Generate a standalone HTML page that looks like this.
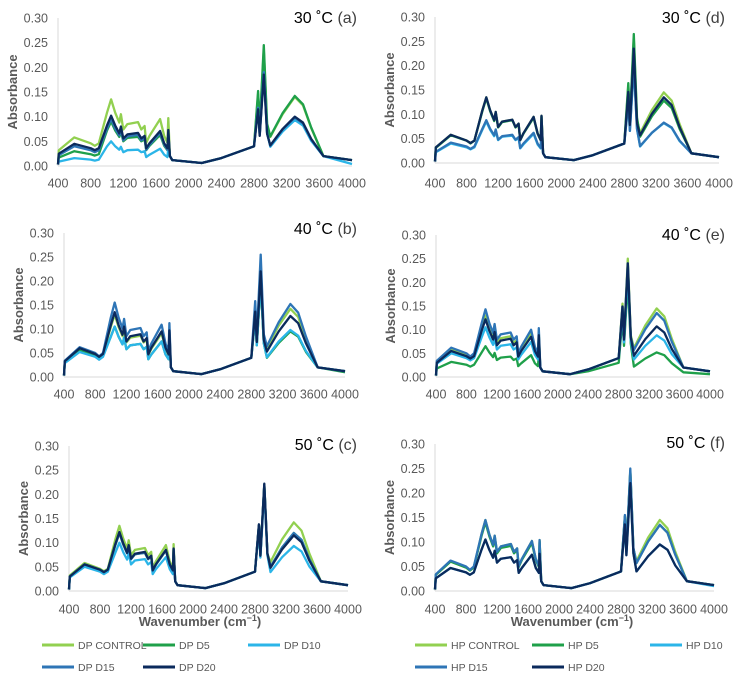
<!DOCTYPE html>
<html><head><meta charset="utf-8">
<style>
html,body{margin:0;padding:0;background:#fff;}
svg{display:block;font-family:"Liberation Sans",sans-serif;}
</style></head>
<body>
<svg id="fig" width="737" height="677" viewBox="0 0 737 677"></svg>
<script>
// shared wavenumber grid (cm-1)
const wavenumbers = [400,410,600,800,850,900,1000,1050,1100,1150,1170,1200,1250,1380,1420,1460,1480,1520,1650,1700,1740,1750,1770,1800,2160,2400,2800,2850,2870,2920,2960,3000,3150,3300,3400,3500,3650,4000];
const xTicks = [400,800,1200,1600,2000,2400,2800,3200,3600,4000];
const yTicks = [0,0.05,0.10,0.15,0.20,0.25,0.30];
const seriesNamesDP = ["DP CONTROL","DP D5","DP D10","DP D15","DP D20"];
const seriesNamesHP = ["HP CONTROL","HP D5","HP D10","HP D15","HP D20"];

// panel (a) 30C DP
const aControl=[.003,.032,.058,.046,.041,.046,.108,.135,.108,.088,.105,.074,.085,.089,.074,.081,.047,.061,.095,.061,.047,.097,.02,.012,.006,.016,.04,.146,.078,.235,.082,.059,.105,.140,.123,.077,.02,.012];
const aD5=[.003,.017,.030,.024,.021,.024,.072,.090,.072,.059,.070,.050,.057,.059,.050,.054,.032,.041,.063,.041,.032,.065,.02,.012,.006,.016,.04,.152,.081,.245,.086,.060,.107,.142,.125,.078,.02,.012];
const aD10=[.003,.009,.016,.013,.011,.013,.040,.050,.040,.033,.039,.028,.032,.033,.028,.030,.018,.023,.035,.023,.018,.036,.02,.012,.006,.016,.04,.118,.063,.190,.067,.039,.070,.093,.082,.051,.02,.004];
const aD15=[.003,.022,.040,.032,.028,.032,.076,.095,.076,.062,.074,.052,.060,.063,.052,.057,.033,.043,.067,.043,.033,.068,.02,.012,.006,.016,.04,.118,.063,.190,.067,.041,.074,.098,.086,.054,.02,.012];
const aD20=[.003,.025,.045,.036,.032,.036,.082,.102,.082,.066,.080,.056,.064,.067,.056,.061,.036,.046,.071,.046,.036,.073,.02,.012,.006,.016,.04,.115,.061,.185,.065,.042,.075,.100,.088,.055,.02,.012];
// panel (b) 40C DP
const bControl=[.003,.033,.060,.048,.042,.048,.104,.130,.104,.085,.101,.072,.082,.086,.072,.078,.046,.059,.091,.059,.046,.094,.02,.012,.006,.016,.04,.124,.066,.200,.070,.060,.107,.142,.125,.078,.02,.012];
const bD5=[.003,.030,.055,.044,.039,.044,.084,.105,.084,.068,.082,.058,.066,.069,.058,.063,.037,.047,.074,.047,.037,.076,.02,.012,.006,.016,.04,.124,.066,.200,.070,.040,.071,.095,.084,.052,.02,.01];
const bD10=[.003,.029,.052,.042,.036,.042,.084,.105,.084,.068,.082,.058,.066,.069,.058,.063,.037,.047,.074,.047,.037,.076,.02,.012,.006,.016,.04,.124,.066,.200,.070,.041,.074,.098,.086,.054,.02,.012];
const bD15=[.003,.034,.062,.050,.043,.050,.124,.155,.124,.101,.121,.085,.098,.102,.085,.093,.054,.070,.109,.070,.054,.112,.02,.012,.006,.016,.04,.158,.084,.255,.089,.064,.114,.152,.134,.084,.02,.012];
const bD20=[.003,.033,.060,.048,.042,.048,.108,.135,.108,.088,.105,.074,.085,.089,.074,.081,.047,.061,.095,.061,.047,.097,.02,.012,.006,.016,.04,.136,.073,.220,.077,.053,.095,.127,.112,.070,.02,.012];
// panel (c) 50C DP
const cControl=[.003,.032,.058,.046,.041,.046,.108,.135,.108,.088,.105,.074,.085,.089,.074,.081,.047,.061,.095,.061,.047,.097,.02,.012,.006,.016,.04,.136,.073,.220,.077,.060,.107,.142,.125,.078,.02,.012];
const cD5=[.003,.030,.055,.044,.039,.044,.096,.120,.096,.078,.094,.066,.076,.079,.066,.072,.042,.054,.084,.054,.042,.086,.02,.012,.006,.016,.04,.136,.073,.220,.077,.050,.090,.120,.106,.066,.02,.012];
const cD10=[.003,.028,.050,.040,.035,.040,.080,.100,.080,.065,.078,.055,.063,.066,.055,.060,.035,.045,.070,.045,.035,.072,.02,.012,.006,.016,.04,.130,.069,.210,.074,.039,.070,.093,.082,.051,.02,.012];
const cD15=[.003,.030,.055,.044,.039,.044,.096,.120,.096,.078,.094,.066,.076,.079,.066,.072,.042,.054,.084,.054,.042,.086,.02,.012,.006,.016,.04,.136,.073,.220,.077,.050,.090,.120,.106,.066,.02,.012];
const cD20=[.003,.030,.055,.044,.039,.044,.098,.122,.098,.079,.095,.067,.077,.081,.067,.073,.043,.055,.085,.055,.043,.088,.02,.012,.006,.016,.04,.138,.073,.222,.078,.048,.086,.115,.101,.063,.02,.012];
// panel (d) 30C HP
const dControl=[.003,.032,.058,.046,.041,.046,.108,.135,.108,.088,.105,.074,.085,.089,.074,.081,.047,.061,.095,.061,.047,.097,.02,.012,.006,.016,.04,.158,.084,.255,.089,.061,.109,.145,.128,.080,.02,.012];
const dD5=[.003,.031,.057,.046,.040,.046,.106,.133,.106,.086,.104,.073,.084,.088,.073,.080,.047,.060,.093,.060,.047,.096,.02,.012,.006,.016,.04,.164,.087,.265,.093,.054,.096,.128,.113,.070,.02,.012];
const dD10=[.003,.022,.040,.032,.028,.032,.068,.085,.068,.055,.066,.047,.054,.056,.047,.051,.030,.038,.060,.038,.030,.061,.02,.012,.006,.016,.04,.124,.066,.200,.070,.034,.062,.082,.072,.045,.02,.012];
const dD15=[.003,.023,.042,.034,.029,.034,.070,.088,.070,.057,.069,.048,.055,.058,.048,.053,.031,.040,.062,.040,.031,.063,.02,.012,.006,.016,.04,.124,.066,.200,.070,.035,.062,.083,.073,.046,.02,.012];
const dD20=[.003,.032,.058,.046,.041,.046,.108,.135,.108,.088,.105,.074,.085,.089,.074,.081,.047,.061,.095,.061,.047,.097,.02,.012,.006,.016,.04,.146,.078,.235,.082,.057,.101,.135,.119,.074,.02,.012];
// panel (e) 40C HP
const eControl=[.003,.033,.060,.048,.042,.048,.104,.130,.104,.085,.101,.072,.082,.086,.072,.078,.046,.059,.091,.059,.046,.094,.02,.012,.006,.016,.04,.155,.083,.250,.088,.061,.109,.145,.128,.080,.02,.012];
const eD5=[.003,.018,.032,.026,.022,.026,.052,.065,.052,.042,.051,.036,.041,.043,.036,.039,.023,.029,.046,.029,.023,.047,.02,.012,.006,.012,.03,.124,.066,.200,.070,.022,.039,.052,.046,.029,.01,.006];
const eD10=[.003,.028,.050,.040,.035,.040,.084,.105,.084,.068,.082,.058,.066,.069,.058,.063,.037,.047,.074,.047,.037,.076,.02,.012,.006,.016,.04,.136,.073,.220,.077,.037,.066,.088,.077,.048,.02,.012];
const eD15=[.003,.034,.062,.050,.043,.050,.114,.143,.114,.093,.112,.079,.090,.094,.079,.086,.050,.064,.100,.064,.050,.103,.02,.012,.006,.016,.04,.149,.079,.240,.084,.057,.101,.135,.119,.074,.02,.012];
const eD20=[.003,.030,.055,.044,.039,.044,.098,.122,.098,.079,.095,.067,.077,.081,.067,.073,.043,.055,.085,.055,.043,.088,.02,.012,.006,.016,.04,.149,.079,.240,.084,.045,.080,.107,.094,.059,.02,.012];
// panel (f) 50C HP
const fControl=[.003,.033,.060,.048,.042,.048,.116,.145,.116,.094,.113,.080,.091,.096,.080,.087,.051,.065,.102,.065,.051,.104,.02,.012,.006,.016,.04,.152,.081,.245,.086,.061,.109,.145,.128,.080,.02,.012];
const fD5=[.003,.033,.060,.048,.042,.048,.112,.140,.112,.091,.109,.077,.088,.092,.077,.084,.049,.063,.098,.063,.049,.101,.02,.012,.006,.016,.04,.152,.081,.245,.086,.057,.101,.135,.119,.074,.02,.012];
const fD10=[.003,.026,.047,.038,.033,.038,.084,.105,.084,.068,.082,.058,.066,.069,.058,.063,.037,.047,.074,.047,.037,.076,.02,.012,.006,.016,.04,.136,.073,.220,.077,.040,.071,.095,.084,.052,.02,.01];
const fD15=[.003,.034,.062,.050,.043,.050,.116,.145,.116,.094,.113,.080,.091,.096,.080,.087,.051,.065,.102,.065,.051,.104,.02,.012,.006,.016,.04,.155,.083,.250,.088,.057,.101,.135,.119,.074,.02,.012];
const fD20=[.003,.026,.047,.038,.033,.038,.084,.105,.084,.068,.082,.058,.066,.069,.058,.063,.037,.047,.074,.047,.037,.076,.02,.012,.006,.016,.04,.136,.073,.220,.077,.040,.071,.095,.084,.052,.02,.012];

const colors = ["#92d050","#1fa04a","#2bb5e8","#2e75b6","#0b2a5c"];

const NS="http://www.w3.org/2000/svg";
const svg=document.getElementById('fig');
function mk(tag,attrs,parent){const e=document.createElementNS(NS,tag);for(const k in attrs)e.setAttribute(k,attrs[k]);(parent||svg).appendChild(e);return e;}

const panels=[
 {id:'a',temp:'30',x0:58,x1:352,yT:18,yB:166,xl:183,ty:23,tx:357,series:[aControl,aD5,aD10,aD15,aD20]},
 {id:'b',temp:'40',x0:64,x1:345,yT:233,yB:377,xl:394,ty:234,tx:357,series:[bControl,bD5,bD10,bD15,bD20]},
 {id:'c',temp:'50',x0:69,x1:348,yT:446,yB:591,xl:609,ty:450,tx:357,series:[cControl,cD5,cD10,cD15,cD20]},
 {id:'d',temp:'30',x0:435,x1:719,yT:17,yB:163,xl:183,ty:23,tx:725,series:[dControl,dD5,dD10,dD15,dD20]},
 {id:'e',temp:'40',x0:436,x1:710,yT:235,yB:377,xl:394,ty:240,tx:725,series:[eControl,eD5,eD10,eD15,eD20]},
 {id:'f',temp:'50',x0:435,x1:714,yT:444,yB:591,xl:609,ty:448,tx:725,series:[fControl,fD5,fD10,fD15,fD20]}
];

panels.forEach(p=>{
  const g=mk('g',{});
  
  
  const xs=v=>p.x0+(v-400)/3600*(p.x1-p.x0);
  const ys=v=>p.yB-v/0.30*(p.yB-p.yT);
  const ax=mk('line',{x1:p.x0,y1:p.yT,x2:p.x0,y2:p.yB,stroke:'#d9d9d9','stroke-width':1},g);
  
  
  const bx=mk('line',{x1:p.x0,y1:p.yB,x2:p.x1,y2:p.yB,stroke:'#d9d9d9','stroke-width':1},g);
  
  
  yTicks.forEach(t=>{
    const tx=mk('text',{x:p.x0-10,y:ys(t)+4.5,'text-anchor':'end','font-size':12.5,fill:'#595959'},g);
    tx.textContent=t.toFixed(2);
    
    
  });
  xTicks.forEach(t=>{
    const tx=mk('text',{x:xs(t),y:p.xl+4.5,'text-anchor':'middle','font-size':12.5,fill:'#595959'},g);
    tx.textContent=t;
    
    
  });
  const cy=(p.yT+p.yB)/2;
  const yt=mk('text',{x:0,y:0,'text-anchor':'middle','font-size':13,'font-weight':'bold',fill:'#595959',transform:`translate(${p.x0-41},${cy}) rotate(-90)`},g);
  yt.textContent='Absorbance';
  
  
  const tt=mk('text',{x:p.tx,y:p.ty,'text-anchor':'end','font-size':16,fill:'#000'},g);
  tt.innerHTML=p.temp+' ˚C <tspan fill="#404040">('+p.id+')</tspan>';
  
  
  p.series.forEach((s,i)=>{
    const d=s.map((v,k)=>(k?'L':'M')+xs(wavenumbers[k]).toFixed(1)+','+ys(v).toFixed(1)).join(' ');
    const path=mk('path',{d:d,fill:'none',stroke:colors[i],'stroke-width':2.3,'stroke-linejoin':'round'},g);
    
    
  });
});

[[200],[572]].forEach(([cx])=>{
  const t=mk('text',{x:cx,y:626,'text-anchor':'middle','font-size':13,'font-weight':'bold',fill:'#595959'});
  t.innerHTML='Wavenumber (cm<tspan font-size="9" dy="-5">−1</tspan><tspan dy="5">)</tspan>';
  
  
});

function legend(names,pos){
  names.forEach((n,i)=>{
    const [lx,ly]=pos[i];
    const g=mk('g',{});
    
    
    mk('line',{x1:lx,y1:ly,x2:lx+32,y2:ly,stroke:colors[i],'stroke-width':3},g);
    const t=mk('text',{x:lx+36,y:ly+4,'font-size':10.5,fill:'#595959'},g);
    t.textContent=n;
  });
}
legend(seriesNamesDP,[[42,645],[143,645],[248,645],[42,667],[143,667]]);
legend(seriesNamesHP,[[415,645],[532,645],[650,645],[415,667],[532,667]]);
</script>
</body></html>
